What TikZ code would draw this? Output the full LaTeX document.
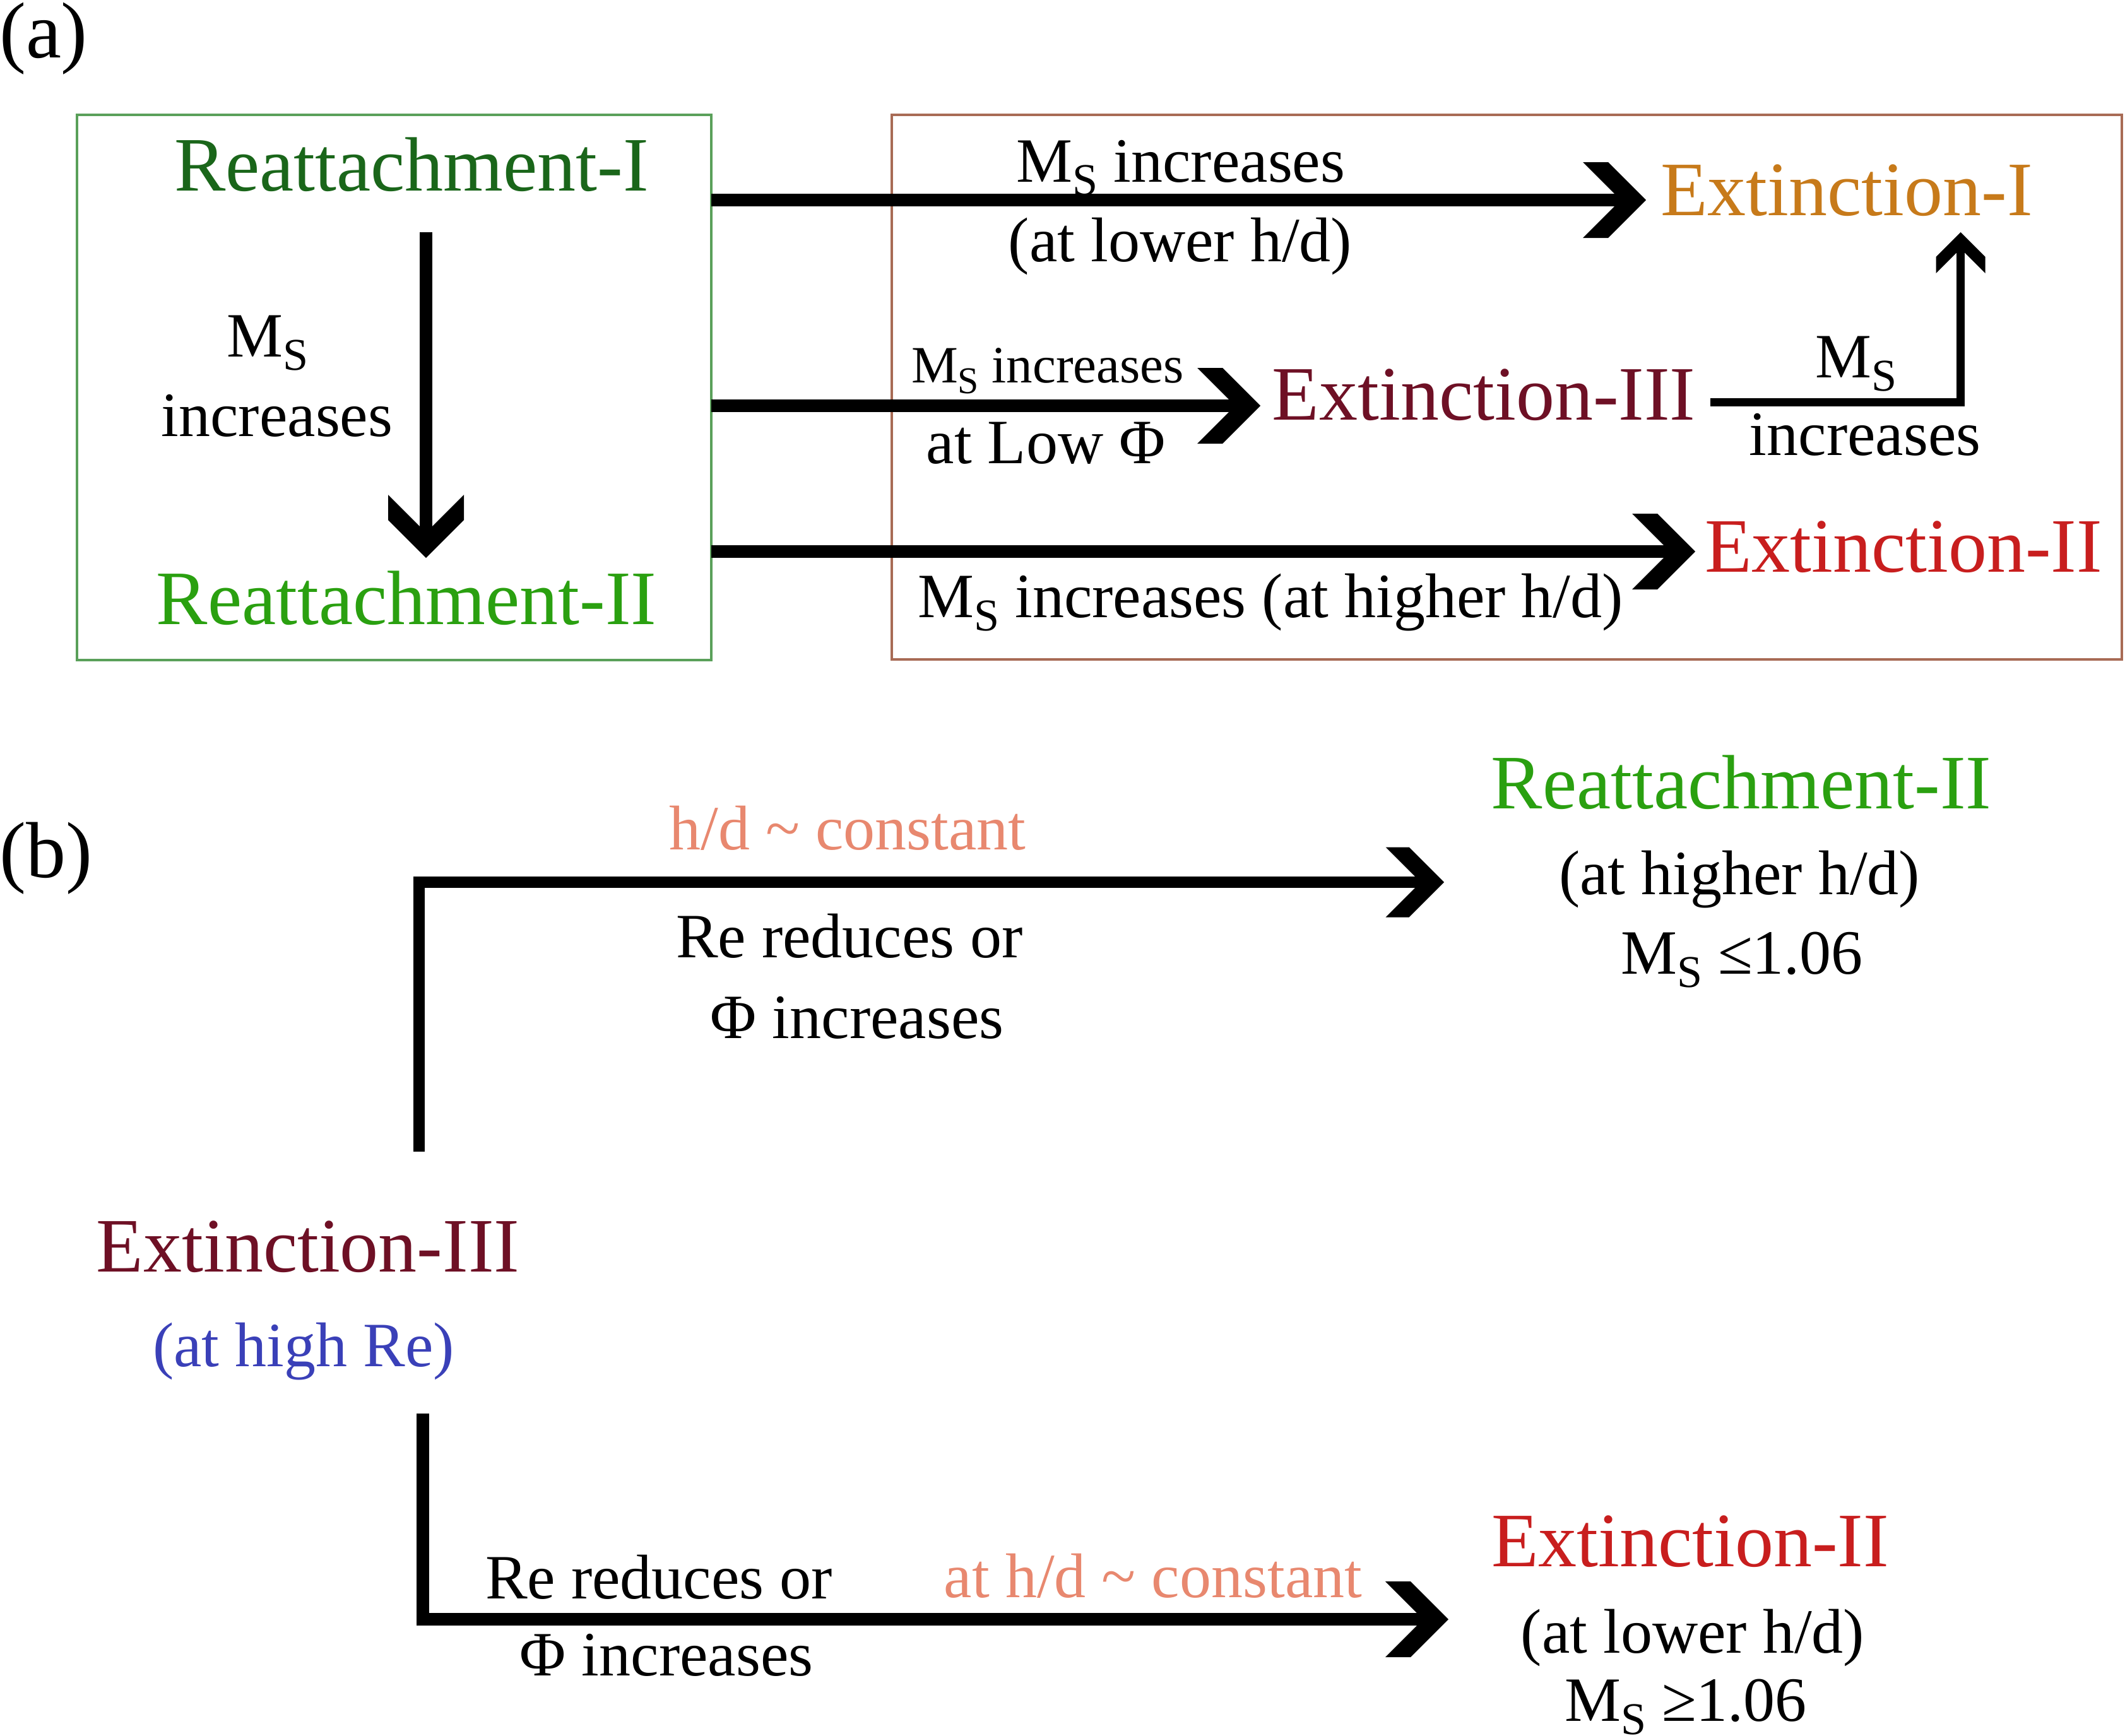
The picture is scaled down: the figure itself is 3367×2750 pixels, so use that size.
\documentclass[tikz,border=0pt]{standalone}
\usepackage{fontspec}
\usepackage{graphicx}
\setmainfont{Liberation Serif}
\usetikzlibrary{calc}
\definecolor{cGbox}{HTML}{5AA05A}
\definecolor{cBbox}{HTML}{A86B55}
\definecolor{cReA}{HTML}{1A661A}
\definecolor{cReB}{HTML}{2AA010}
\definecolor{cExA}{HTML}{C77A1A}
\definecolor{cExB}{HTML}{C81E1E}
\definecolor{cExC}{HTML}{6E1025}
\definecolor{cSal}{HTML}{E8886F}
\definecolor{cBlue}{HTML}{3A40B8}
\newcommand{\MsS}{M\raisebox{-0.21em}{\scalebox{0.72}{S}}}
\pgfdeclarearrow{
  name = Chev,
  parameters = {\the\pgflinewidth},
  setup code = {
    \pgfarrowssettipend{0pt}
    \pgfarrowssetlineend{-1.5\pgflinewidth}
    \pgfarrowssetbackend{-5\pgflinewidth}
    \pgfarrowssetvisualbackend{-5\pgflinewidth}
    \pgfarrowshullpoint{0pt}{0pt}
    \pgfarrowshullpoint{-5\pgflinewidth}{3\pgflinewidth}
    \pgfarrowshullpoint{-5\pgflinewidth}{-3\pgflinewidth}
    \pgfarrowssavethe\pgflinewidth
  },
  drawing code = {
    \pgfpathmoveto{\pgfqpoint{0pt}{0pt}}
    \pgfpathlineto{\pgfqpoint{-3\pgflinewidth}{3\pgflinewidth}}
    \pgfpathlineto{\pgfqpoint{-5\pgflinewidth}{3\pgflinewidth}}
    \pgfpathlineto{\pgfqpoint{-2\pgflinewidth}{0pt}}
    \pgfpathlineto{\pgfqpoint{-5\pgflinewidth}{-3\pgflinewidth}}
    \pgfpathlineto{\pgfqpoint{-3\pgflinewidth}{-3\pgflinewidth}}
    \pgfpathclose
    \pgfusepathqfill
  },
}
\tikzset{
  big/.style={font=\fontsize{12.2pt}{14pt}\selectfont, inner sep=0pt, anchor=base},
  med/.style={font=\fontsize{10pt}{12pt}\selectfont, inner sep=0pt, anchor=base},
  sml/.style={font=\fontsize{8.3pt}{10pt}\selectfont, inner sep=0pt, anchor=base},
  arr/.style={line width=2pt, arrows={-Chev}},
  arrb/.style={line width=1.85pt, arrows={-Chev}},
  arrthin/.style={line width=1.3pt, arrows={-Chev}},
  panelbox/.style={inner sep=0pt, outer sep=0pt, line width=0.45pt},
}
\begin{document}
\begin{tikzpicture}[x=0.1pt, y=-0.1pt]
\useasboundingbox (0,0) rectangle (3367,2750);
% ---------- panel (a) ----------
\node[big, font=\fontsize{12.6pt}{14pt}\selectfont] (la) at (69,91) {(a)};
\node[panelbox, draw=cGbox, minimum width=100.5pt, minimum height=86.4pt] (gbox) at (624.5,614) {};
\node[panelbox, draw=cBbox, minimum width=194.9pt, minimum height=86.3pt] (bbox) at (2387.5,613.5) {};

\node[big, text=cReA] (r1) at (652,302) {Reattachment-I};
\node[big, text=cReB] (r2) at (644,989) {Reattachment-II};
\node[med] (msA) at (424,565) {\MsS};
\node[med] (incA) at (439,691) {increases};
\coordinate (vs) at (675,368);
\coordinate (ve) at (675,884);
\draw[arr] (vs) -- (ve);

\node[big, text=cExA] (e1) at (2926,341) {Extinction-I};
\node[big, text=cExC] (e3) at (2351,665) {Extinction-III};
\node[big, text=cExB] (e2) at (3016,906) {Extinction-II};

% arrow 1
\coordinate (t1) at (2608,317);
\draw[arr] (gbox.east |- t1) -- (t1);
\node[med] (l1a) at (1871,288) {\MsS\ increases};
\node[med] (l1b) at (1870,414) {(at lower h/d)};
% arrow 2
\coordinate (t2) at (1997,643);
\draw[arr] (gbox.east |- t2) -- (t2);
\node[sml] (l2a) at (1660,606) {\MsS\ increases};
\node[med] (l2b) at (1657,734) {at Low Φ};
% arrow 3
\coordinate (t3) at (2686,874);
\draw[arr] (gbox.east |- t3) -- (t3);
\node[med] (l3) at (2013,978) {\MsS\ increases (at higher h/d)};
% Extinction-III -> Extinction-I
\coordinate (c4) at (3106.5,637);
\coordinate (t4) at (3106.5,368);
\draw[arrthin] ($(e3.east |- c4)+(22,0)$) -- (c4) -- (t4);
\node[med] (l4a) at (2941,598) {\MsS};
\node[med] (l4b) at (2955,721) {increases};

% ---------- panel (b) ----------
\node[big, font=\fontsize{12.6pt}{14pt}\selectfont] (lb) at (73,1390) {(b)};
\node[med, text=cSal] (l5a) at (1343,1346) {h/d \textasciitilde\ constant};
\coordinate (u0) at (664,1825);
\coordinate (ut) at (2288,1398);
\draw[arrb] (u0) |- (ut);
\node[med] (l5b) at (1346,1517) {Re reduces or};
\node[med] (l5c) at (1358,1645) {Φ increases};
\node[big, text=cReB] (r2b) at (2759,1281) {Reattachment-II};
\node[med] (r2b1) at (2756,1417) {(at higher h/d)};
\node[med] (r2b2) at (2760,1543) {\MsS\ ≤1.06};

\node[big, text=cExC] (e3b) at (488,2015) {Extinction-III};
\node[med, text=cBlue] (e3b1) at (481,2165) {(at high Re)};

\coordinate (d0) at (670,2240);
\coordinate (dt) at (2295,2566);
\draw[arr] (d0) |- (dt);
\node[med] (l6a) at (1044,2533) {Re reduces or};
\node[med] (l6b) at (1056,2655) {Φ increases};
\node[med, text=cSal] (l6c) at (1827,2531) {at h/d \textasciitilde\ constant};
\node[big, text=cExB] (e2b) at (2678,2482) {Extinction-II};
\node[med] (e2b1) at (2682,2619) {(at lower h/d)};
\node[med] (e2b2) at (2671,2727) {\MsS\ ≥1.06};
\end{tikzpicture}
\end{document}
